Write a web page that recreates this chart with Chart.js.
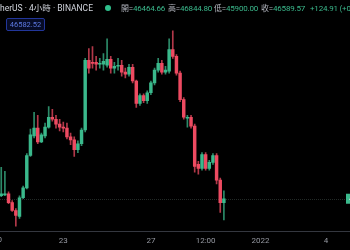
<!DOCTYPE html>
<html>
<head>
<meta charset="utf-8">
<script src="https://cdn.jsdelivr.net/npm/chart.js@4.4.1/dist/chart.umd.min.js"></script>
<style>
  html, body { margin: 0; padding: 0; background: #000; }
  #wrap { position: relative; width: 350px; height: 250px; overflow: hidden; background: #000; }
  #chart { position: absolute; left: 0; top: 0; }
  .hd { position: absolute; top: 3px; font-family: Roboto, "Noto Sans CJK TC", sans-serif; font-size: 8px; line-height: 11px; letter-spacing: -0.2px; white-space: nowrap; color: #b2b5be; }
  .up { color: #3bb98c; }
  #sym { right: 257px; color: #d1d4dc; font-size: 8.5px; letter-spacing: 0; }
  #dot { position: absolute; left: 105px; top: 5px; width: 6px; height: 6px; border-radius: 50%; background: #2fbf8c; }
  #pricebox { position: absolute; left: 6px; top: 18px; width: 37px; height: 11px; border: 1px solid #22369a; border-radius: 2px; background: #070c26; color: #5c78e0; font-family: Roboto, sans-serif; font-size: 7.5px; line-height: 11px; text-align: center; }
</style>
</head>
<body>
<div id="wrap">
  <canvas id="chart" width="350" height="250"></canvas>
  <div class="hd" id="sym">Bitcoin / TetherUS · 4小時 · BINANCE</div>
  <div id="dot"></div>
  <div class="hd" style="left:121px">開=<span class="up">46464.66</span></div>
  <div class="hd" style="left:168px">高=<span class="up">46844.80</span></div>
  <div class="hd" style="left:214px">低=<span class="up">45900.00</span></div>
  <div class="hd" style="left:261px">收=<span class="up">46589.57</span></div>
  <div class="hd up" style="left:310px">+124.91 (+0.27%)</div>
  <div id="pricebox">46582.52</div>
</div>
<script>
// 4h candles, slot 0 = Dec 20 00:00
const slots = [0, 1, 2, 3, 4, 5, 6, 7, 8, 9, 10, 11, 12, 13, 14, 15, 16, 17, 18, 19, 20,
  21, 22, 23, 24, 25, 26, 27, 28, 29, 30, 31, 32, 33, 34, 35, 36, 37, 38, 39, 40, 41,
  42, 43, 44, 45, 46, 47, 48, 49, 50, 51, 52, 53, 54, 55, 56, 57, 58, 59, 60, 61, 62];

const opens = [46686, 46686, 46718, 46750, 46462, 46206, 46014, 46622, 46942, 47998,
  48638, 48894, 48446, 48638, 48926, 49246, 49182, 49022, 48926, 48894,
  48606, 48510, 48190, 48382, 48830, 51102, 51038, 51038, 50974, 50974,
  50942, 51134, 50846, 50910, 50942, 50718, 50654, 50878, 50430, 49694,
  49950, 49790, 50046, 50366, 50782, 51006, 50718, 50750, 51454, 51230,
  50686, 49822, 49214, 49246, 48958, 47710, 47582, 48030, 47582, 47774,
  47998, 47198, 46464.66];
const highs = [46910, 47614, 47486, 46814, 46526, 46270, 46686, 47006, 48062, 48862,
  49406, 49310, 48734, 49054, 49598, 49502, 49310, 49182, 49086, 49054,
  48734, 48606, 48478, 48894, 51166, 51486, 51550, 51230, 51166, 51326,
  51806, 51230, 51038, 51166, 51102, 50846, 50974, 50974, 50462, 50014,
  50014, 50110, 50430, 50846, 51166, 51102, 50910, 51806, 52062, 51294,
  50750, 49886, 49310, 49310, 49022, 47806, 48094, 48094, 47838, 48062,
  48062, 47262, 46844.80];
const lows = [46590, 46654, 46686, 46430, 46174, 45694, 45950, 46590, 46910, 47966,
  48574, 48382, 48414, 48574, 48894, 49118, 48894, 48798, 48766, 48542,
  48350, 47966, 48094, 48318, 48766, 50686, 50846, 50782, 50846, 50782,
  50878, 50686, 50686, 50782, 50590, 50526, 50590, 50366, 49566, 49630,
  49726, 49694, 49982, 50302, 50718, 50654, 50654, 50686, 51166, 50622,
  49758, 49182, 48926, 48894, 47454, 47390, 47518, 47518, 47518, 47710,
  47070, 46142, 45900.00];
const closes = [46718, 46750, 46750, 46462, 46206, 46046, 46622, 46942, 47998, 48670,
  48894, 48446, 48670, 48926, 49246, 49182, 49022, 48926, 48894, 48606,
  48510, 48190, 48382, 48830, 51102, 50846, 51006, 50974, 51006, 51070,
  51134, 50846, 50910, 50942, 50718, 50654, 50878, 50430, 49694, 49950,
  49790, 50046, 50366, 50782, 51006, 50718, 50782, 51454, 51230, 50686,
  49822, 49246, 49246, 48958, 47646, 47582, 48030, 47582, 47774, 47998,
  47198, 46462, 46589.57];

const tickSlots = [18, 42, 57, 72, 90];
const tickLabels = ["23", "27", "12:00", "2022", "4"];
const lastPrice = 46589.57;

const upColor = "#3bb98c";
const downColor = "#ee4b62";
const upWick = "rgba(59,185,140,0.75)";
const downWick = "rgba(238,75,98,0.75)";

const candleColor = (ctx) => {
  const i = ctx.dataIndex;
  return closes[i] >= opens[i] ? upColor : downColor;
};
const wickColor = (ctx) => {
  const i = ctx.dataIndex;
  return closes[i] >= opens[i] ? upWick : downWick;
};

const bodyData = slots.map((s, i) => ({ x: s, y: [opens[i], closes[i]] }));
const wickData = slots.map((s, i) => ({ x: s, y: [lows[i], highs[i]] }));

const priceLine = {
  id: "priceLine",
  beforeDatasetsDraw(chart) {
    const ctx = chart.ctx;
    const area = chart.chartArea;
    const y = Math.round(chart.scales.y.getPixelForValue(lastPrice)) + 0.5;
    ctx.save();
    ctx.strokeStyle = "rgba(100,120,112,0.35)";
    ctx.lineWidth = 1;
    ctx.setLineDash([1, 1]);
    ctx.beginPath();
    ctx.moveTo(area.left, y);
    ctx.lineTo(area.right, y);
    ctx.stroke();
    ctx.restore();
  },
  afterDraw(chart) {
    const ctx = chart.ctx;
    const y = chart.scales.y.getPixelForValue(lastPrice);
    ctx.save();
    ctx.fillStyle = upColor;
    ctx.fillRect(346, y - 5, 60, 10);
    ctx.fillStyle = "#fff";
    ctx.font = "8px Roboto";
    ctx.textBaseline = "middle";
    ctx.fillText(lastPrice.toFixed(2), 349, y);
    // partial "20" label left of the visible range
    ctx.fillStyle = "#9598a1";
    ctx.font = "8px Roboto";
    ctx.textAlign = "center";
    ctx.textBaseline = "top";
    ctx.fillText("20", chart.scales.x.getPixelForValue(0), chart.chartArea.bottom + 4);
    ctx.restore();
  },
};

const ctx = document.getElementById("chart").getContext("2d");
new Chart(ctx, {
  type: "bar",
  data: {
    datasets: [
      {
        data: wickData,
        backgroundColor: wickColor,
        barThickness: 1,
        grouped: false,
        borderWidth: 0,
      },
      {
        data: bodyData,
        backgroundColor: candleColor,
        barThickness: 2.8,
        grouped: false,
        borderWidth: 0,
        minBarLength: 1,
      },
    ],
  },
  options: {
    responsive: false,
    animation: false,
    events: [],
    layout: { padding: 0 },
    plugins: {
      legend: { display: false },
      tooltip: { enabled: false },
    },
    scales: {
      x: {
        type: "linear",
        min: 0.66,
        max: 96.55,
        offset: false,
        grid: { display: false, drawTicks: false },
        border: { display: true, color: "#34373f" },
        afterBuildTicks: (scale) => {
          scale.ticks = tickSlots.map((v) => ({ value: v }));
        },
        ticks: {
          autoSkip: false,
          maxRotation: 0,
          padding: 4,
          color: "#9598a1",
          font: { family: "Roboto", size: 8, lineHeight: 1.3 },
          callback: (value) => tickLabels[tickSlots.indexOf(value)],
        },
      },
      y: {
        display: false,
        min: 45518,
        max: 53070,
      },
    },
  },
  plugins: [priceLine],
});
</script>
</body>
</html>
